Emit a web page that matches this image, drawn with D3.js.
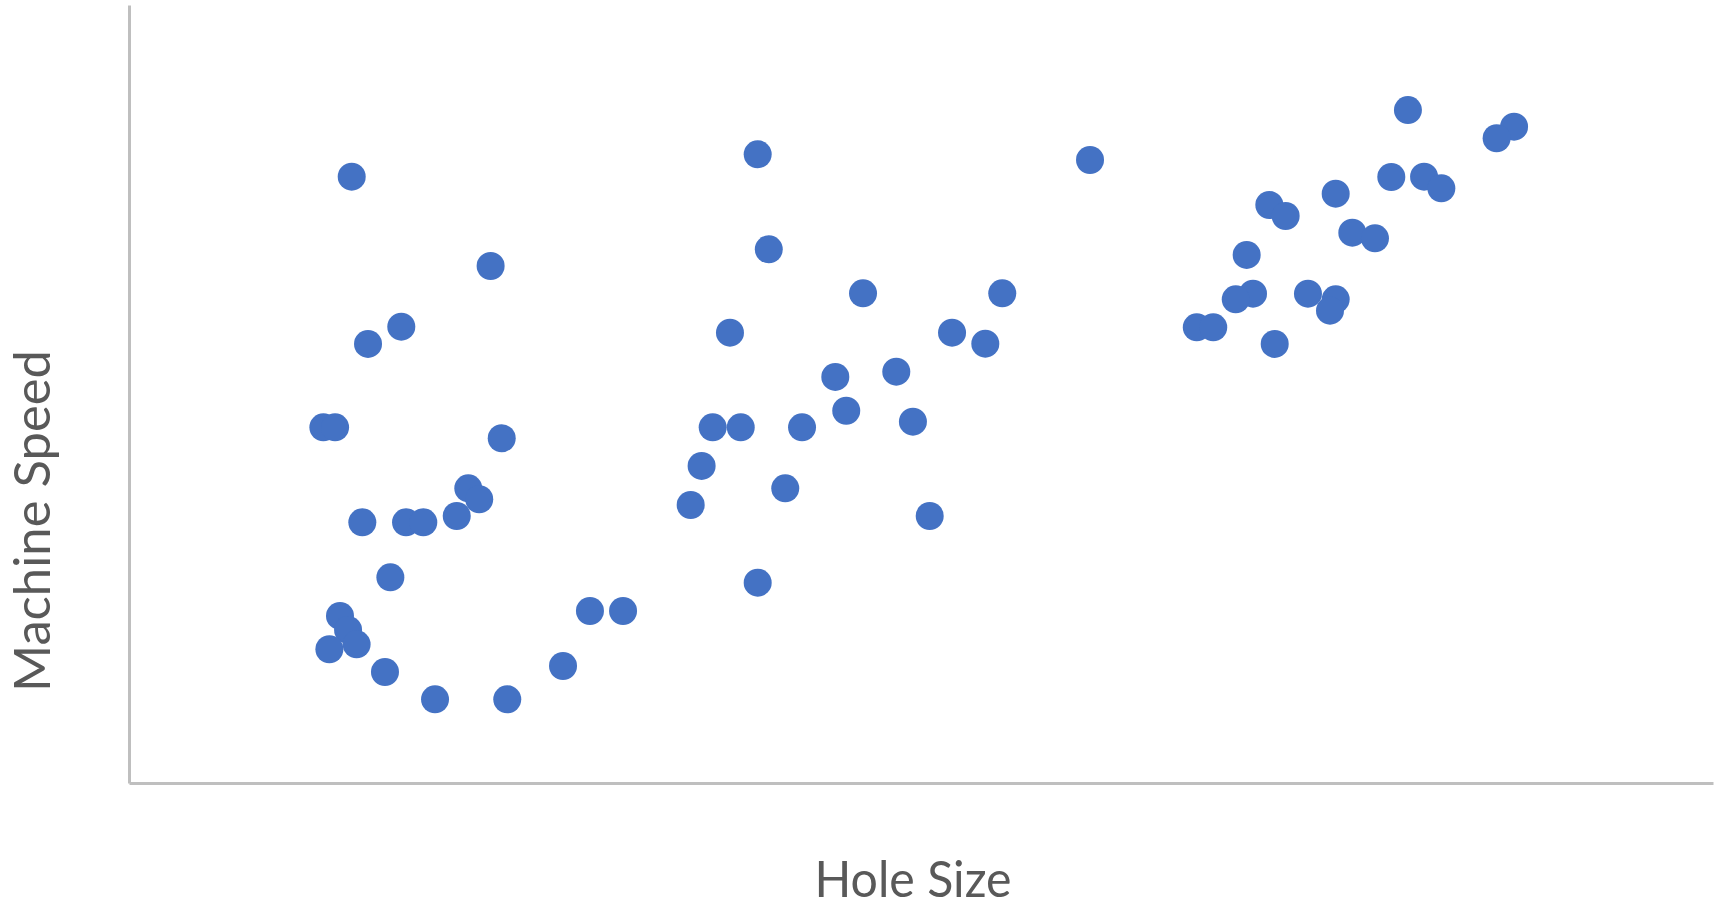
<!DOCTYPE html>
<html>
<head>
<meta charset="utf-8">
<script src="https://cdn.jsdelivr.net/npm/d3@7"></script>
<style>
  html, body { margin: 0; padding: 0; background: #ffffff; }
  svg { display: block; }
</style>
</head>
<body>
<svg id="chart" width="1716" height="908"></svg>
<script>
// Data (arbitrary units, no tick labels in the reference)
const holeSize = [
  14.06, 22.83, 17.19, 15.09, 12.27, 13.01, 23.53, 21.42, 22.11, 20.69,
  14.73, 17.49, 18.58, 16.50, 13.32, 13.83, 14.37, 12.65, 16.16, 19.32,
  23.88, 27.40, 29.10, 31.19, 39.69, 40.39, 46.34, 55.13, 37.94, 51.96,
  54.06, 44.59, 48.44, 45.28, 49.49, 36.85, 38.62, 42.49, 36.15, 41.43,
  35.46, 50.55, 39.69, 60.67, 80.74, 87.44, 86.34, 79.69, 81.76, 82.85,
  76.18, 71.99, 73.02, 77.23, 78.66, 70.56, 70.96, 69.87, 74.43, 76.18,
  75.82, 67.41, 68.45, 72.33
];
const machineSpeed = [
  77.93, 66.45, 58.65, 56.43, 45.72, 45.72, 44.31, 37.88, 36.47, 34.32,
  33.51, 33.51, 33.51, 26.44, 21.47, 19.67, 17.83, 17.19, 14.27, 10.76,
  10.76, 15.04, 22.11, 22.11, 80.81, 68.60, 62.94, 62.94, 57.88, 57.88,
  56.47, 52.19, 52.87, 47.85, 46.44, 45.72, 45.72, 45.72, 40.75, 37.88,
  35.73, 34.32, 25.75, 80.08, 86.50, 84.36, 82.87, 77.89, 77.93, 76.44,
  75.75, 74.29, 72.88, 70.73, 70.01, 67.87, 62.89, 62.17, 62.89, 62.17,
  60.71, 58.57, 58.57, 56.43
];
const xDomain = [0, 100];
const yDomain = [0, 100];
const xTitle = "Hole Size";
const yTitle = "Machine Speed";

(function () {
  const points = holeSize.map((h, i) => ({ x: h, y: machineSpeed[i] }));

  const svg = d3.select("#chart");
  const mLeft = 129, mRight = 1713, mTop = 5, mBottom = 783;

  const x = d3.scaleLinear().domain(xDomain).range([mLeft, mRight]);
  const y = d3.scaleLinear().domain(yDomain).range([mBottom, mTop]);

  const axisColor = "#bfbfbf";
  const gx = svg.append("g")
    .attr("transform", `translate(0,${mBottom})`)
    .call(d3.axisBottom(x).tickValues([]).tickSizeOuter(0));
  gx.select(".domain").attr("stroke", axisColor).attr("stroke-width", 3);

  const gy = svg.append("g")
    .attr("transform", `translate(${mLeft},0)`)
    .call(d3.axisLeft(y).tickValues([]).tickSizeOuter(0));
  gy.select(".domain").attr("stroke", axisColor).attr("stroke-width", 3);

  svg.append("g")
    .selectAll("circle")
    .data(points)
    .join("circle")
    .attr("cx", d => x(d.x))
    .attr("cy", d => y(d.y))
    .attr("r", 14)
    .attr("fill", "#4472C4");

  svg.append("text")
    .attr("x", 913)
    .attr("y", 897)
    .attr("text-anchor", "middle")
    .attr("font-family", "Lato, 'Open Sans', sans-serif")
    .attr("font-size", 50)
    .attr("fill", "#595959")
    .attr("textLength", 197)
    .attr("lengthAdjust", "spacingAndGlyphs")
    .text(xTitle);

  svg.append("text")
    .attr("transform", "translate(50,521) rotate(-90)")
    .attr("text-anchor", "middle")
    .attr("font-family", "Lato, 'Open Sans', sans-serif")
    .attr("font-size", 50)
    .attr("fill", "#595959")
    .attr("textLength", 342)
    .attr("lengthAdjust", "spacingAndGlyphs")
    .text(yTitle);
})();
</script>
</body>
</html>
